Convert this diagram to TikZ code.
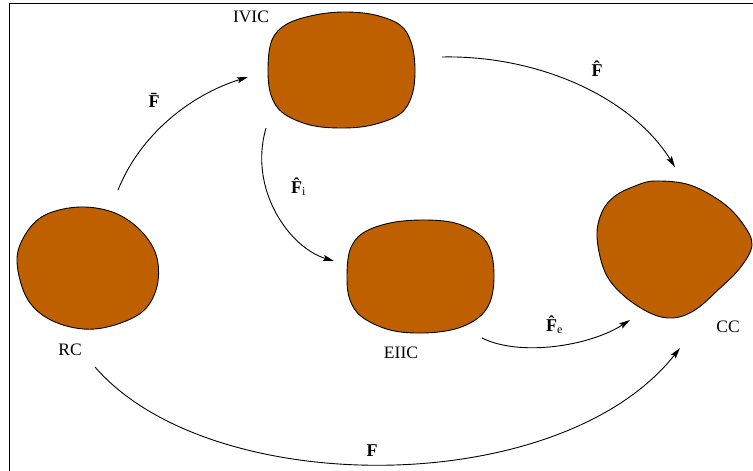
\documentclass[tikz,border=0pt]{standalone}
\usepackage{fontspec}
\setmainfont{Liberation Serif}
\usetikzlibrary{arrows.meta}
\definecolor{blobfill}{RGB}{191,96,0}
\newcommand{\subsc}[1]{\raisebox{-0.35ex}{\fontsize{12}{13}\selectfont\mdseries #1}}
\tikzset{
  blob/.style={draw=black,line width=0.9pt,fill=blobfill},
  conn/.style={line width=0.9pt,-{Stealth[length=11pt,width=6pt,inset=2pt]}},
  lab/.style={font=\fontsize{17.5}{19}\selectfont,inner sep=0pt},
  flab/.style={font=\fontsize{18}{20}\selectfont\bfseries,inner sep=0pt},
}
\begin{document}
\begin{tikzpicture}[x=1pt,y=-1pt]
\useasboundingbox (0,0) rectangle (753,471);
% frame
\draw[line width=0.8pt] (753,3) -- (9,3) -- (9,471);
% blobs
\draw[blob] plot[smooth cycle,tension=0.6] coordinates {(17,262) (25,235) (45,215) (80,207) (115,213) (142,232) (157,258) (156,290) (138,315) (95,329) (55,322) (28,300)};
\draw[blob] plot[smooth cycle,tension=0.6] coordinates {(268,68) (272,40) (287,24) (315,15) (345,12) (375,15) (400,25) (411,42) (415,68) (412,95) (400,114) (372,125) (342,128) (310,125) (283,113) (271,95)};
\draw[blob] plot[smooth cycle,tension=0.6] coordinates {(347,278) (350,250) (363,233) (390,223) (423,220) (455,223) (480,235) (491,252) (494,278) (490,302) (478,318) (455,329) (423,333) (390,330) (362,317) (350,300)};
\draw[blob] plot[smooth cycle,tension=0.6] coordinates {(597,237) (602,212) (615,196) (635,186) (655,181) (690,185) (723,203) (743,224) (752,245) (740,268) (718,290) (695,310) (673,318) (650,313) (623,295) (605,272)};
% nodes (labels)
\node[lab] (ivic) at (251,17) {IVIC};
\node[lab] (rc) at (70,350) {RC};
\node[lab] (eiic) at (401,353) {EIIC};
\node[lab] (cc) at (728,327) {CC};
% anchor coordinates
\coordinate (a1) at (118,190); \coordinate (b1) at (248,77);
\coordinate (a2) at (442,57);  \coordinate (b2) at (675,167);
\coordinate (a3) at (266,128); \coordinate (b3) at (334,261);
\coordinate (a4) at (482,338); \coordinate (b4) at (630,320);
\coordinate (a5) at (95,367);  \coordinate (b5) at (680,348);
% connectors
\draw[conn] (a1) .. controls (140,135) and (190,95) .. (b1);
\draw[conn] (a2) .. controls (535,55) and (630,95) .. (b2);
\draw[conn] (a3) .. controls (248,190) and (290,248) .. (b3);
\draw[conn] (a4) .. controls (520,357) and (590,346) .. (b4);
\draw[conn] (a5) .. controls (210,500) and (560,500) .. (b5);
% connector labels
\node[flab,anchor=base] (lfbar) at (154,107) {F^^^^0304};
\node[flab,anchor=base] (lfhat) at (597,76) {F^^^^0302};
\node[flab,anchor=base west] (lfi) at (291,193) {F^^^^0302\subsc{i}};
\node[flab,anchor=base west] (lfe) at (546,331) {F^^^^0302\subsc{e}};
\node[flab,anchor=base] (lf) at (372,456) {F};
\end{tikzpicture}
\end{document}
